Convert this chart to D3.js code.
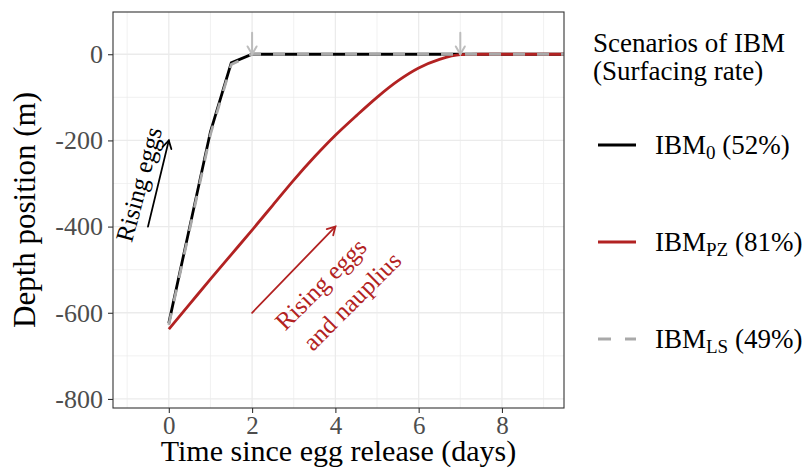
<!DOCTYPE html>
<html>
<head>
<meta charset="utf-8">
<script src="https://cdn.jsdelivr.net/npm/d3@7"></script>
<style>
  body { margin: 0; background: #fff; }
  svg { font-family: "Liberation Serif", "DejaVu Serif", serif; }
</style>
</head>
<body>
<svg id="chart" width="806" height="469"></svg>
<script>
// values
const ibm0Days   = [0, 1, 1.5, 2, 3, 4, 5, 6, 7, 8, 9, 9.5];
const ibm0Depth  = [-624, -180, -20, 0, 0, 0, 0, 0, 0, 0, 0, 0];
const ibmLSDays  = [0, 1, 1.5, 2, 3, 4, 5, 6, 7, 8, 9, 9.5];
const ibmLSDepth = [-628, -186, -24, 0, 0, 0, 0, 0, 0, 0, 0, 0];
const ibmPZDays  = [0, 0.5, 1, 1.5, 2, 2.5, 3, 3.5, 4, 4.5, 5, 5.5, 6, 6.5, 7, 7.5, 8, 9, 9.5];
const ibmPZDepth = [-638, -580, -522, -465, -408, -350, -292, -238, -188, -143, -100, -62, -32, -12, -1, 0, 0, 0, 0];

const xTicks = [0, 2, 4, 6, 8];
const xMinor = [-1, 1, 3, 5, 7, 9];
const yTicks = [0, -200, -400, -600, -800];
const yMinor = [-100, -300, -500, -700];

const legendLabels = [
  {base: "IBM", sub: "0",  rate: "(52%)"},
  {base: "IBM", sub: "PZ", rate: "(81%)"},
  {base: "IBM", sub: "LS", rate: "(49%)"}
];

const pLeft = 113, pRight = 564, pTop = 12, pBottom = 408;

const svg = d3.select('#chart');

const x = d3.scaleLinear().domain([-1.34, 9.49]).range([pLeft, pRight]);
const y = d3.scaleLinear().domain([-821, 98]).range([pBottom, pTop]);

const red = "#b22222";
const grey = "#a9a9a9";
const arrowGrey = "#bdbdbd";

// grid
const grid = svg.append("g");
grid.selectAll(".vmin").data(xMinor).join("line")
  .attr("x1", d => x(d)).attr("x2", d => x(d)).attr("y1", pTop).attr("y2", pBottom)
  .attr("stroke", "#ebebeb").attr("stroke-width", 0.7);
grid.selectAll(".hmin").data(yMinor).join("line")
  .attr("y1", d => y(d)).attr("y2", d => y(d)).attr("x1", pLeft).attr("x2", pRight)
  .attr("stroke", "#ebebeb").attr("stroke-width", 0.7);
grid.selectAll(".vmaj").data(xTicks).join("line")
  .attr("x1", d => x(d)).attr("x2", d => x(d)).attr("y1", pTop).attr("y2", pBottom)
  .attr("stroke", "#ebebeb").attr("stroke-width", 1.3);
grid.selectAll(".hmaj").data(yTicks).join("line")
  .attr("y1", d => y(d)).attr("y2", d => y(d)).attr("x1", pLeft).attr("x2", pRight)
  .attr("stroke", "#ebebeb").attr("stroke-width", 1.3);

svg.append("clipPath").attr("id", "panel")
  .append("rect").attr("x", pLeft).attr("y", pTop).attr("width", pRight - pLeft).attr("height", pBottom - pTop);

const line = d3.line().x(d => x(d[0])).y(d => y(d[1]));
const smooth = d3.line().x(d => x(d[0])).y(d => y(d[1])).curve(d3.curveMonotoneX);
const plot = svg.append("g").attr("clip-path", "url(#panel)");

plot.append("path").datum(d3.zip(ibm0Days, ibm0Depth))
  .attr("d", line).attr("fill", "none").attr("stroke", "#000").attr("stroke-width", 2.8);
plot.append("path").datum(d3.zip(ibmPZDays, ibmPZDepth))
  .attr("d", smooth).attr("fill", "none").attr("stroke", red).attr("stroke-width", 2.8);
plot.append("path").datum(d3.zip(ibmLSDays, ibmLSDepth))
  .attr("d", line).attr("fill", "none").attr("stroke", grey).attr("stroke-width", 2.8)
  .attr("stroke-dasharray", "12,12");

// open arrow: line plus two arms at the tip
function arrow(x0, y0, x1, y1, color, width, len) {
  const px0 = x(x0), py0 = y(y0), px1 = x(x1), py1 = y(y1);
  const a = Math.atan2(py1 - py0, px1 - px0);
  const g = svg.append("g").attr("stroke", color).attr("stroke-width", width)
    .attr("fill", "none").attr("stroke-linecap", "round");
  g.append("line").attr("x1", px0).attr("y1", py0).attr("x2", px1).attr("y2", py1);
  const arms = [a + Math.PI - Math.PI / 6, a + Math.PI + Math.PI / 6];
  g.append("path").attr("d",
    "M" + (px1 + len * Math.cos(arms[0])) + "," + (py1 + len * Math.sin(arms[0])) +
    "L" + px1 + "," + py1 +
    "L" + (px1 + len * Math.cos(arms[1])) + "," + (py1 + len * Math.sin(arms[1])));
}

arrow(2, 50, 2, 0, arrowGrey, 2, 9);
arrow(7, 50, 7, 0, arrowGrey, 2, 9);
arrow(-0.5, -400, 0, -200, "#000", 1.8, 9);
arrow(2, -600, 4, -400, red, 1.8, 9);

// annotations
svg.append("text")
  .attr("transform", "translate(" + x(-0.72) + "," + y(-302) + ") rotate(-75)")
  .attr("text-anchor", "middle").attr("dominant-baseline", "central")
  .attr("font-size", 25).attr("fill", "#000")
  .text("Rising eggs");

const redText = svg.append("text")
  .attr("transform", "translate(" + x(4.03) + "," + y(-554) + ") rotate(-45)")
  .attr("text-anchor", "middle").attr("font-size", 25).attr("fill", red);
redText.append("tspan").attr("x", -5).attr("y", -9).text("Rising eggs");
redText.append("tspan").attr("x", 5).attr("y", 25).text("and nauplius");

// axes
const xAxis = svg.append("g").attr("transform", "translate(0," + pBottom + ")")
  .call(d3.axisBottom(x).tickValues(xTicks).tickSize(5).tickPadding(3).tickFormat(d => String(d)));
const yAxis = svg.append("g").attr("transform", "translate(" + pLeft + ",0)")
  .call(d3.axisLeft(y).tickValues(yTicks).tickSize(5).tickPadding(5).tickFormat(d => String(d)));
[xAxis, yAxis].forEach(ax => {
  ax.select(".domain").remove();
  ax.selectAll(".tick line").attr("stroke", "#333").attr("stroke-width", 1.1);
  ax.selectAll(".tick text").attr("fill", "#4d4d4d").attr("font-size", 26)
    .attr("font-family", "Liberation Serif");
});
xAxis.selectAll(".tick text").attr("font-size", 25);

// panel border
svg.append("rect").attr("x", pLeft).attr("y", pTop).attr("width", pRight - pLeft).attr("height", pBottom - pTop)
  .attr("fill", "none").attr("stroke", "#333").attr("stroke-width", 1.1);

// axis titles
svg.append("text").attr("x", (pLeft + pRight) / 2).attr("y", 461)
  .attr("text-anchor", "middle").attr("font-size", 30).attr("fill", "#000")
  .text("Time since egg release (days)");
svg.append("text").attr("transform", "translate(35," + (pTop + pBottom) / 2 + ") rotate(-90)")
  .attr("text-anchor", "middle").attr("font-size", 31).attr("fill", "#000")
  .text("Depth position (m)");

// legend
const legend = svg.append("g");
legend.append("text").attr("x", 593).attr("y", 52).attr("font-size", 27).text("Scenarios of IBM");
legend.append("text").attr("x", 593).attr("y", 80).attr("font-size", 27).text("(Surfacing rate)");

const keyY = [145, 242, 339];
const keyColor = ["#000", red, grey];
const keyDash = [null, null, "13,14"];
legendLabels.forEach((d, i) => {
  legend.append("line").attr("x1", 598).attr("x2", 636).attr("y1", keyY[i]).attr("y2", keyY[i])
    .attr("stroke", keyColor[i]).attr("stroke-width", 2.8).attr("stroke-dasharray", keyDash[i]);
  const t = legend.append("text").attr("x", 655).attr("y", keyY[i] + 9).attr("font-size", 27);
  t.append("tspan").text(d.base);
  t.append("tspan").attr("font-size", 19).attr("dy", 5).text(d.sub);
  t.append("tspan").attr("dy", -5).text(" " + d.rate);
});
</script>
</body>
</html>
